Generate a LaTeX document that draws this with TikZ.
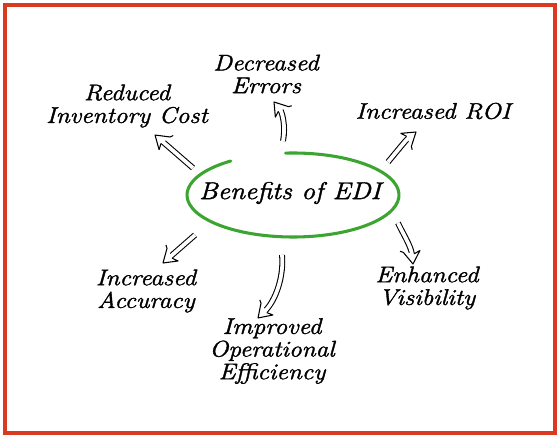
\documentclass[tikz,border=0pt]{standalone}
\usepackage{fontspec}
\usepackage{xcolor}
\usepackage{tikz}
\usetikzlibrary{decorations.markings}

\newfontfamily\handfont[FakeStretch=1.12, FakeBold=1.6]{Latin Modern Roman}
\definecolor{framered}{RGB}{218,58,32}
\definecolor{ringgreen}{RGB}{60,165,50}

\tikzset{
    benefit/.style={font=\handfont\itshape\fontsize{17}{17}\selectfont, align=center, inner sep=0pt},
    hollow/.style={draw=black, line width=0.8pt, double=white, double distance=2.8pt,
        shorten >=7.5pt,
        postaction={decorate, decoration={markings, mark=at position 1 with {
            \filldraw[fill=white, line width=0.8pt, line join=round]
                (-7.5pt,1.8pt) -- (-9.5pt,6.3pt) -- (0pt,0pt) -- (-9.5pt,-6.3pt) -- (-7.5pt,-1.8pt);}}}}
}

\begin{document}
\begin{tikzpicture}[x=0.75pt, y=-0.75pt]
    \useasboundingbox (0,0) rectangle (560,438);
    \fill[white] (0,0) rectangle (560,438);

    % frame
    \draw[framered, line width=3pt] (5,5) rectangle (555,433);

    % centre
    \node[benefit, font=\handfont\itshape\fontsize{18.2}{22}\selectfont] (benefits) at (290,193) {Benefits of EDI};
    \draw[ringgreen, line width=2.3pt, line cap=round]
        ([shift={(126:79.5pt and 31.5pt)}]293,195) arc[start angle=126, end angle=454, x radius=79.5pt, y radius=31.5pt];

    % labels
    \node[benefit] (errors) at (266,74) {Decreased\\Errors};
    \node[benefit] (cost) at (127,106) {Reduced\\Inventory Cost};
    \node[benefit] (roi) at (433,111) {Increased ROI};
    \node[benefit] (visibility) at (427,288) {Enhanced\\Visibility};
    \node[benefit] (accuracy) at (146,291) {Increased\\Accuracy};
    \node[benefit] (efficiency) at (272,351) {Improved\\Operational\\Efficiency};

    % arrow ends
    \coordinate (cost tail) at (193,168);
    \coordinate (cost tip) at (155,135);
    \coordinate (errors tail) at (283,141);
    \coordinate (errors tip) at (274,102);
    \coordinate (roi tail) at (388,162);
    \coordinate (roi tip) at (416,132);
    \coordinate (visibility tail) at (398,223);
    \coordinate (visibility tip) at (413,264);
    \coordinate (efficiency tail) at (282,255);
    \coordinate (efficiency tip) at (258,318);
    \coordinate (accuracy tail) at (195,235);
    \coordinate (accuracy tip) at (163,263);

    % arrows
    \draw[hollow] (cost tail) -- (cost tip);
    \draw[hollow] (errors tail) .. controls (286,126) and (282,112) .. (errors tip);
    \draw[hollow] (roi tail) .. controls (398,150) and (406,140) .. (roi tip);
    \draw[hollow] (visibility tail) .. controls (402,232) and (411,246) .. (visibility tip);
    \draw[hollow] (efficiency tail) .. controls (284,276) and (276,300) .. (efficiency tip);
    \draw[hollow] (accuracy tail) -- (accuracy tip);
\end{tikzpicture}
\end{document}
